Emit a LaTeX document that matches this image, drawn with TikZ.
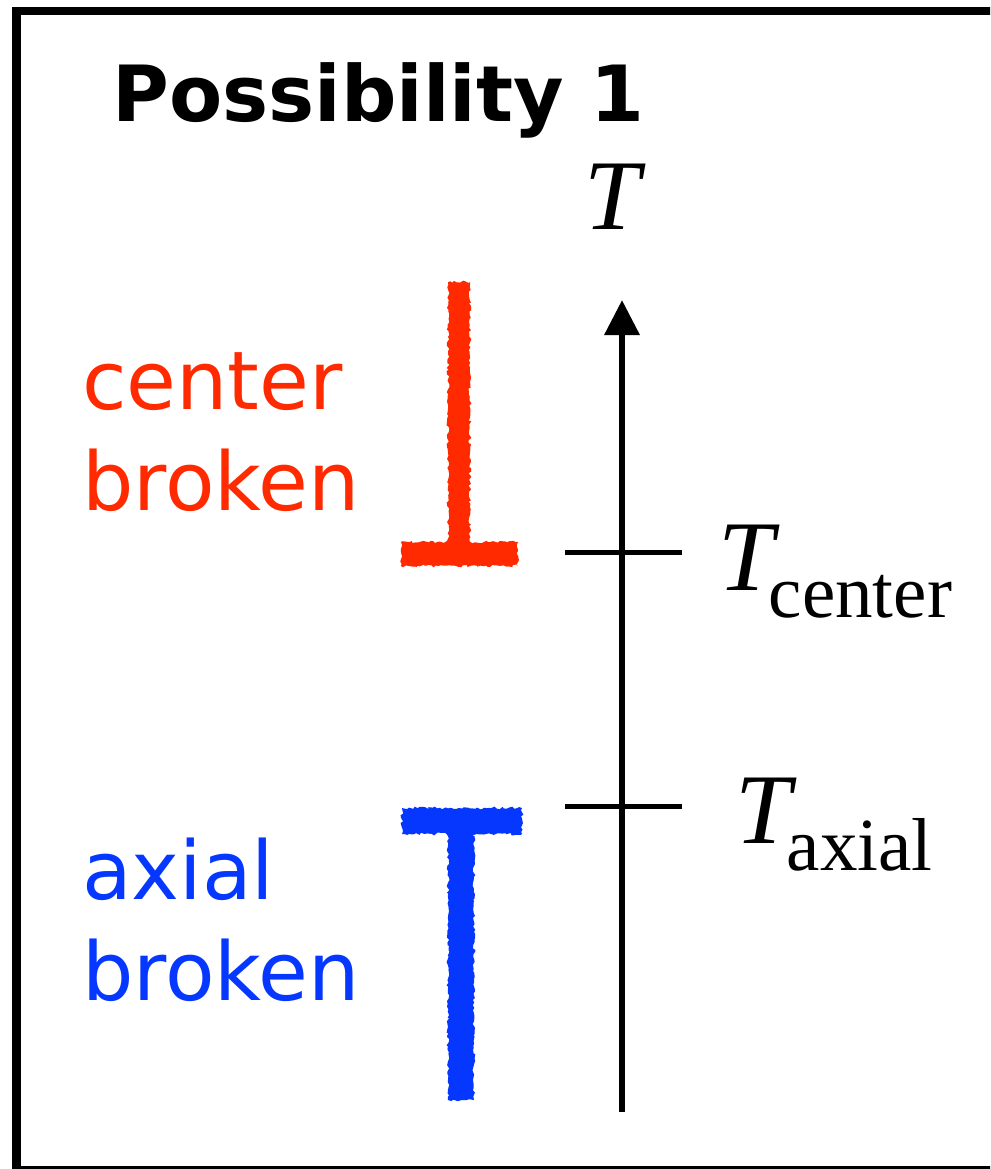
\documentclass[tikz,border=0pt]{standalone}
\usepackage{fontspec}
\setmainfont{Liberation Serif}
\newfontfamily\labfont{DejaVu Sans}
\usetikzlibrary{arrows.meta,decorations.pathmorphing}
\definecolor{chalkred}{RGB}{255,42,0}
\definecolor{chalkblue}{RGB}{5,55,255}
\begin{document}
\begin{tikzpicture}[x=1pt,y=-1pt,
  tickline/.style={line width=5pt},
  axisline/.style={line width=6.5pt,-{Triangle[width=34pt,length=35pt]}},
  lab/.style={inner sep=0pt,anchor=base west},
  chalk/.style={decorate,decoration={random steps,segment length=2.5pt,amplitude=1.4pt}},
  frame/.style={line width=8.5pt},
]
\pgfmathsetseed{7}
\useasboundingbox (0,0) rectangle (990,1169);
\clip (0,0) rectangle (990,1169);
\draw[frame] (16.5,11) rectangle (1010,1170.5);

% title
\node[lab] (title) at (112,122) {\fontsize{77.5}{77.5}\selectfont\labfont\bfseries Possibility 1};

% axis
\coordinate (axbot) at (622,1112);
\coordinate (axtop) at (622,300);
\draw[axisline] (axbot) -- (axtop);
\node[inner sep=0pt,anchor=base] (Tlab) at (612,229) {\fontsize{100}{100}\selectfont\itshape T};

% ticks
\coordinate (tc1) at (565,552); \coordinate (tc2) at (682,552);
\draw[tickline] (tc1) -- (tc2);
\coordinate (ta1) at (565,806); \coordinate (ta2) at (682,806);
\draw[tickline] (ta1) -- (ta2);

\node[lab] (Tcenter) at (718,590) {{\fontsize{100}{100}\selectfont\itshape T}\kern-5pt\raisebox{-27pt}{\fontsize{75}{75}\selectfont center}};
\node[lab] (Taxial) at (735,843) {{\fontsize{100}{100}\selectfont\itshape T}\kern-4pt\raisebox{-27pt}{\fontsize{75}{75}\selectfont axial}};

% left labels
\node[lab,text=chalkred] (cb) at (82,409) {\fontsize{81}{101}\selectfont\labfont\vtop{\hbox{center}\hbox{broken}}};
\node[lab,text=chalkblue] (ab) at (82,899) {\fontsize{81}{101}\selectfont\labfont\vtop{\hbox{axial}\hbox{broken}}};

% chalk marks
\fill[chalkred,chalk] (448,282) rectangle (470,552);
\fill[chalkred,chalk] (401,542) rectangle (518,566);
\fill[chalkblue,chalk] (402,808) rectangle (522,834);
\fill[chalkblue,chalk] (448,822) rectangle (474,1100);
\end{tikzpicture}
\end{document}
